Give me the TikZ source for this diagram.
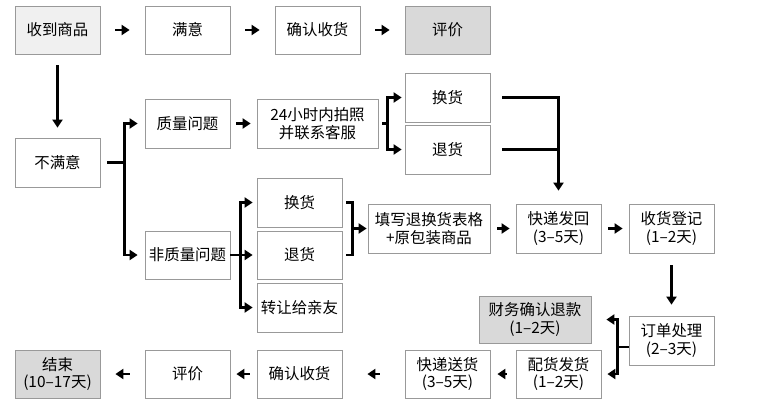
\documentclass[tikz,border=0pt]{standalone}
\usepackage{fontspec}
\setmainfont{Noto Sans CJK SC}
\usetikzlibrary{arrows.meta,calc}
\begin{document}
\begin{tikzpicture}[x=1bp,y=-1bp,
  box/.style={draw=black!40, line width=0.8bp, minimum width=85bp, minimum height=48bp,
    inner sep=0pt, align=center, font=\fontsize{15.5}{17.5}\selectfont},
  lightbox/.style={box, fill=black!6},
  greybox/.style={box, fill=black!15},
  link/.style={line width=2.3bp, draw=black, line join=miter},
  arr/.style={link, -{Triangle[length=8bp,width=10bp]}}]
\useasboundingbox (0,0) rectangle (780,414);
% nodes
\node[lightbox] (recv) at (57.5,30) {收到商品};
\node[box] (sat) at (187.5,30) {满意};
\node[box] (conf1) at (317.5,30) {确认收货};
\node[greybox] (eval1) at (447.5,30) {评价};
\node[box, minimum height=49bp] (unsat) at (57.5,162.5) {不满意};
\node[box, minimum height=49bp] (qual) at (187.5,123.5) {质量问题};
\node[box, minimum height=49bp, minimum width=121bp] (photo) at (317.5,123.5) {24小时内拍照\\并联系客服};
\node[box, minimum height=49bp] (exq) at (447.5,97.5) {换货};
\node[box, minimum height=49bp] (retq) at (447.5,149.5) {退货};
\node[box] (nonq) at (187.5,255) {非质量问题};
\node[box, minimum height=49bp] (exn) at (299.5,202.5) {换货};
\node[box] (retn) at (299.5,255) {退货};
\node[box, minimum height=49bp] (gift) at (299.5,307.5) {转让给亲友};
\node[box, minimum height=49bp, minimum width=122bp] (fill) at (429,228.5) {填写退换货表格\\+原包装商品};
\node[box, minimum height=49bp] (back) at (558.5,228.5) {快递发回\\(3–5天)};
\node[box, minimum height=49bp] (reg) at (671.5,228.5) {收货登记\\(1–2天)};
\node[box, minimum height=49bp] (order) at (671.5,340.5) {订单处理\\(2–3天)};
\node[greybox, minimum height=47bp, minimum width=112bp] (fin) at (535,319.5) {财务确认退款\\(1–2天)};
\node[box] (dist) at (558.5,374) {配货发货\\(1–2天)};
\node[box] (ship) at (447.5,374) {快递送货\\(3–5天)};
\node[box] (conf2) at (299.5,374) {确认收货};
\node[box] (eval2) at (187.5,374) {评价};
\node[greybox] (end) at (57.5,374) {结束\\(10–17天)};
% top row
\draw[arr] ([xshift=15bp]recv.east) -- ([xshift=-15bp]sat.west);
\draw[arr] ([xshift=15bp]sat.east) -- ([xshift=-15bp]conf1.west);
\draw[arr] ([xshift=15bp]conf1.east) -- ([xshift=-15bp]eval1.west);
\draw[arr] ([yshift=-11bp]recv.south) -- ([yshift=10bp]unsat.north);
% unsatisfied bracket
\coordinate (b1) at ([xshift=24bp]unsat.east);
\draw[link] ([xshift=7bp]unsat.east) -- (b1);
\draw[arr] (b1 |- nonq) -- (b1 |- qual) -- ([xshift=-7bp]qual.west);
\draw[arr] (b1 |- qual) -- (b1 |- nonq) -- ([xshift=-7bp]nonq.west);
% quality branch
\draw[arr] ([xshift=6bp]qual.east) -- ([xshift=-6bp]photo.west);
\coordinate (b2) at ([xshift=9bp]photo.east);
\draw[link] ([xshift=4bp]photo.east) -- (b2);
\draw[arr] (b2 |- retq) -- (b2 |- exq) -- ([xshift=-3bp]exq.west);
\draw[arr] (b2 |- exq) -- (b2 |- retq) -- ([xshift=-3bp]retq.west);
\draw[arr] ([xshift=12bp]exq.east) -| ([yshift=13bp]back.north);
\draw[link] ([xshift=12bp]retq.east) -- (back.north |- retq);
% non-quality branch
\coordinate (b3) at ([xshift=10bp]nonq.east);
\draw[arr] (b3 |- gift) -- (b3 |- exn) -- ([xshift=-4bp]exn.west);
\draw[arr] (b3 |- exn) -- (b3 |- gift) -- ([xshift=-4bp]gift.west);
\draw[arr] (nonq.east) -- ([xshift=-4bp]retn.west);
\coordinate (b4) at ([xshift=10bp]exn.east);
\draw[link] ([xshift=4bp]exn.east) -| (b4 |- retn) -- ([xshift=4bp]retn.east);
\draw[arr] (b4 |- fill) -- ([xshift=-1bp]fill.west);
\draw[arr] ([xshift=7bp]fill.east) -- ([xshift=-6bp]back.west);
\draw[arr] ([xshift=7bp]back.east) -- ([xshift=-6bp]reg.west);
\draw[arr] ([yshift=-12bp]reg.south) -- ([yshift=11bp]order.north);
% order bracket
\coordinate (b5) at ([xshift=-11bp]order.west);
\draw[arr] (b5 |- dist) -- (b5 |- fin) -- ([xshift=15bp]fin.east);
\draw[arr] (b5 |- fin) -- (b5 |- dist) -- ([xshift=6bp]dist.east);
\coordinate (mid) at ($(b5 |- fin)!0.5!(b5 |- dist)$);
\draw[link] (mid) -- (mid -| order.west);
% bottom row
\draw[arr] ([xshift=-9bp]dist.west) -- ([xshift=7bp]ship.east);
\draw[arr] ([xshift=-25bp]ship.west) -- ([xshift=25bp]conf2.east);
\draw[arr] ([xshift=-7bp]conf2.west) -- ([xshift=6bp]eval2.east);
\draw[arr] ([xshift=-15bp]eval2.west) -- ([xshift=15bp]end.east);
\end{tikzpicture}
\end{document}
